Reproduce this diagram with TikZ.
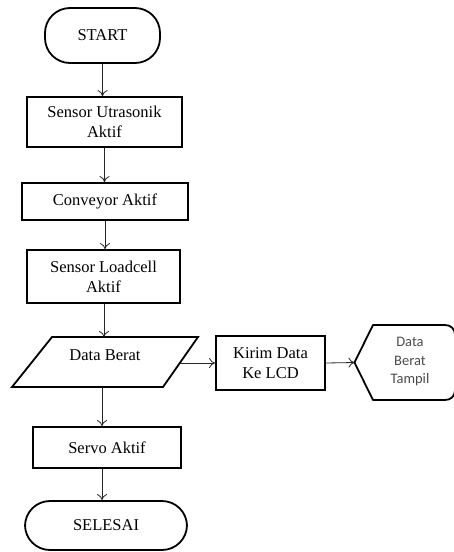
\documentclass[tikz,border=0pt]{standalone}
\usepackage{fontspec}
\setmainfont{Liberation Serif}
\newfontfamily\dispfont{Carlito}
\usetikzlibrary{arrows.meta}
\begin{document}
\begin{tikzpicture}[x=1pt,y=-1pt,
  shp/.style={draw=black, line width=1.8pt},
  box/.style={shp, rectangle, inner sep=0pt, align=center,
    font=\fontsize{16.5}{20}\selectfont},
  term/.style={box, rounded corners=25pt},
  txt/.style={inner sep=0pt, align=center, font=\fontsize{16.5}{20}\selectfont},
  arr/.style={draw=black!85, line width=0.8pt, -{To[length=6pt,width=10pt]}}]
\useasboundingbox (0,0) rectangle (454,552);
% nodes
\node[term, minimum width=115pt, minimum height=55pt] (start) at (102.5,35.5) {START};
\node[box, minimum width=155pt, minimum height=50pt] (s1) at (104.5,122) {Sensor Utrasonik\\Aktif};
\node[box, minimum width=166pt, minimum height=37pt] (conv) at (105,201.5) {Conveyor Aktif};
\node[box, minimum width=153pt, minimum height=53pt] (load) at (103.5,276.5) {Sensor Loadcell\\Aktif};
\draw[shp] (52,337) -- (198,337) -- (163,387) -- (12,387) -- cycle;
\node[txt] (data) at (105,355) {Data Berat};
\coordinate (dtop) at (104,337);
\coordinate (dbot) at (102,387);
\coordinate (dright) at (180,363);
\node[box, minimum width=109pt, minimum height=54pt] (kirim) at (270.5,363) {Kirim Data\\Ke LCD};
\draw[shp, line join=round] (354.5,362.5) -- (373,325) -- (445,325)
  .. controls (451,325) and (455,329) .. (455,335) -- (455,390)
  .. controls (455,396) and (451,400) .. (445,400) -- (373,400) -- cycle;
\coordinate (dispin) at (354.5,362.5);
\node[inner sep=0pt, align=center, text=black!70, font=\dispfont\fontsize{14.5}{18.5}\selectfont] (disp) at (410,362) {Data\\Berat\\Tampil};
\node[box, minimum width=148pt, minimum height=41pt] (servo) at (107,447.5) {Servo Aktif};
\node[term, minimum width=162pt, minimum height=49pt] (end) at (106,525.5) {SELESAI};
% connectors
\draw[arr] (start.south) -- (start.south |- s1.north);
\draw[arr] (s1.south) -- (s1.south |- conv.north);
\draw[arr] (conv.south) -- (conv.south |- load.north);
\draw[arr] (load.south -| dtop) -- (dtop);
\draw[arr] (dright) -- (kirim.west |- dright);
\draw[arr] (kirim.east) -- (dispin);
\draw[arr] (dbot) -- (dbot |- servo.north);
\draw[arr] (servo.south -| dbot) -- (dbot |- end.north);
\end{tikzpicture}
\end{document}
